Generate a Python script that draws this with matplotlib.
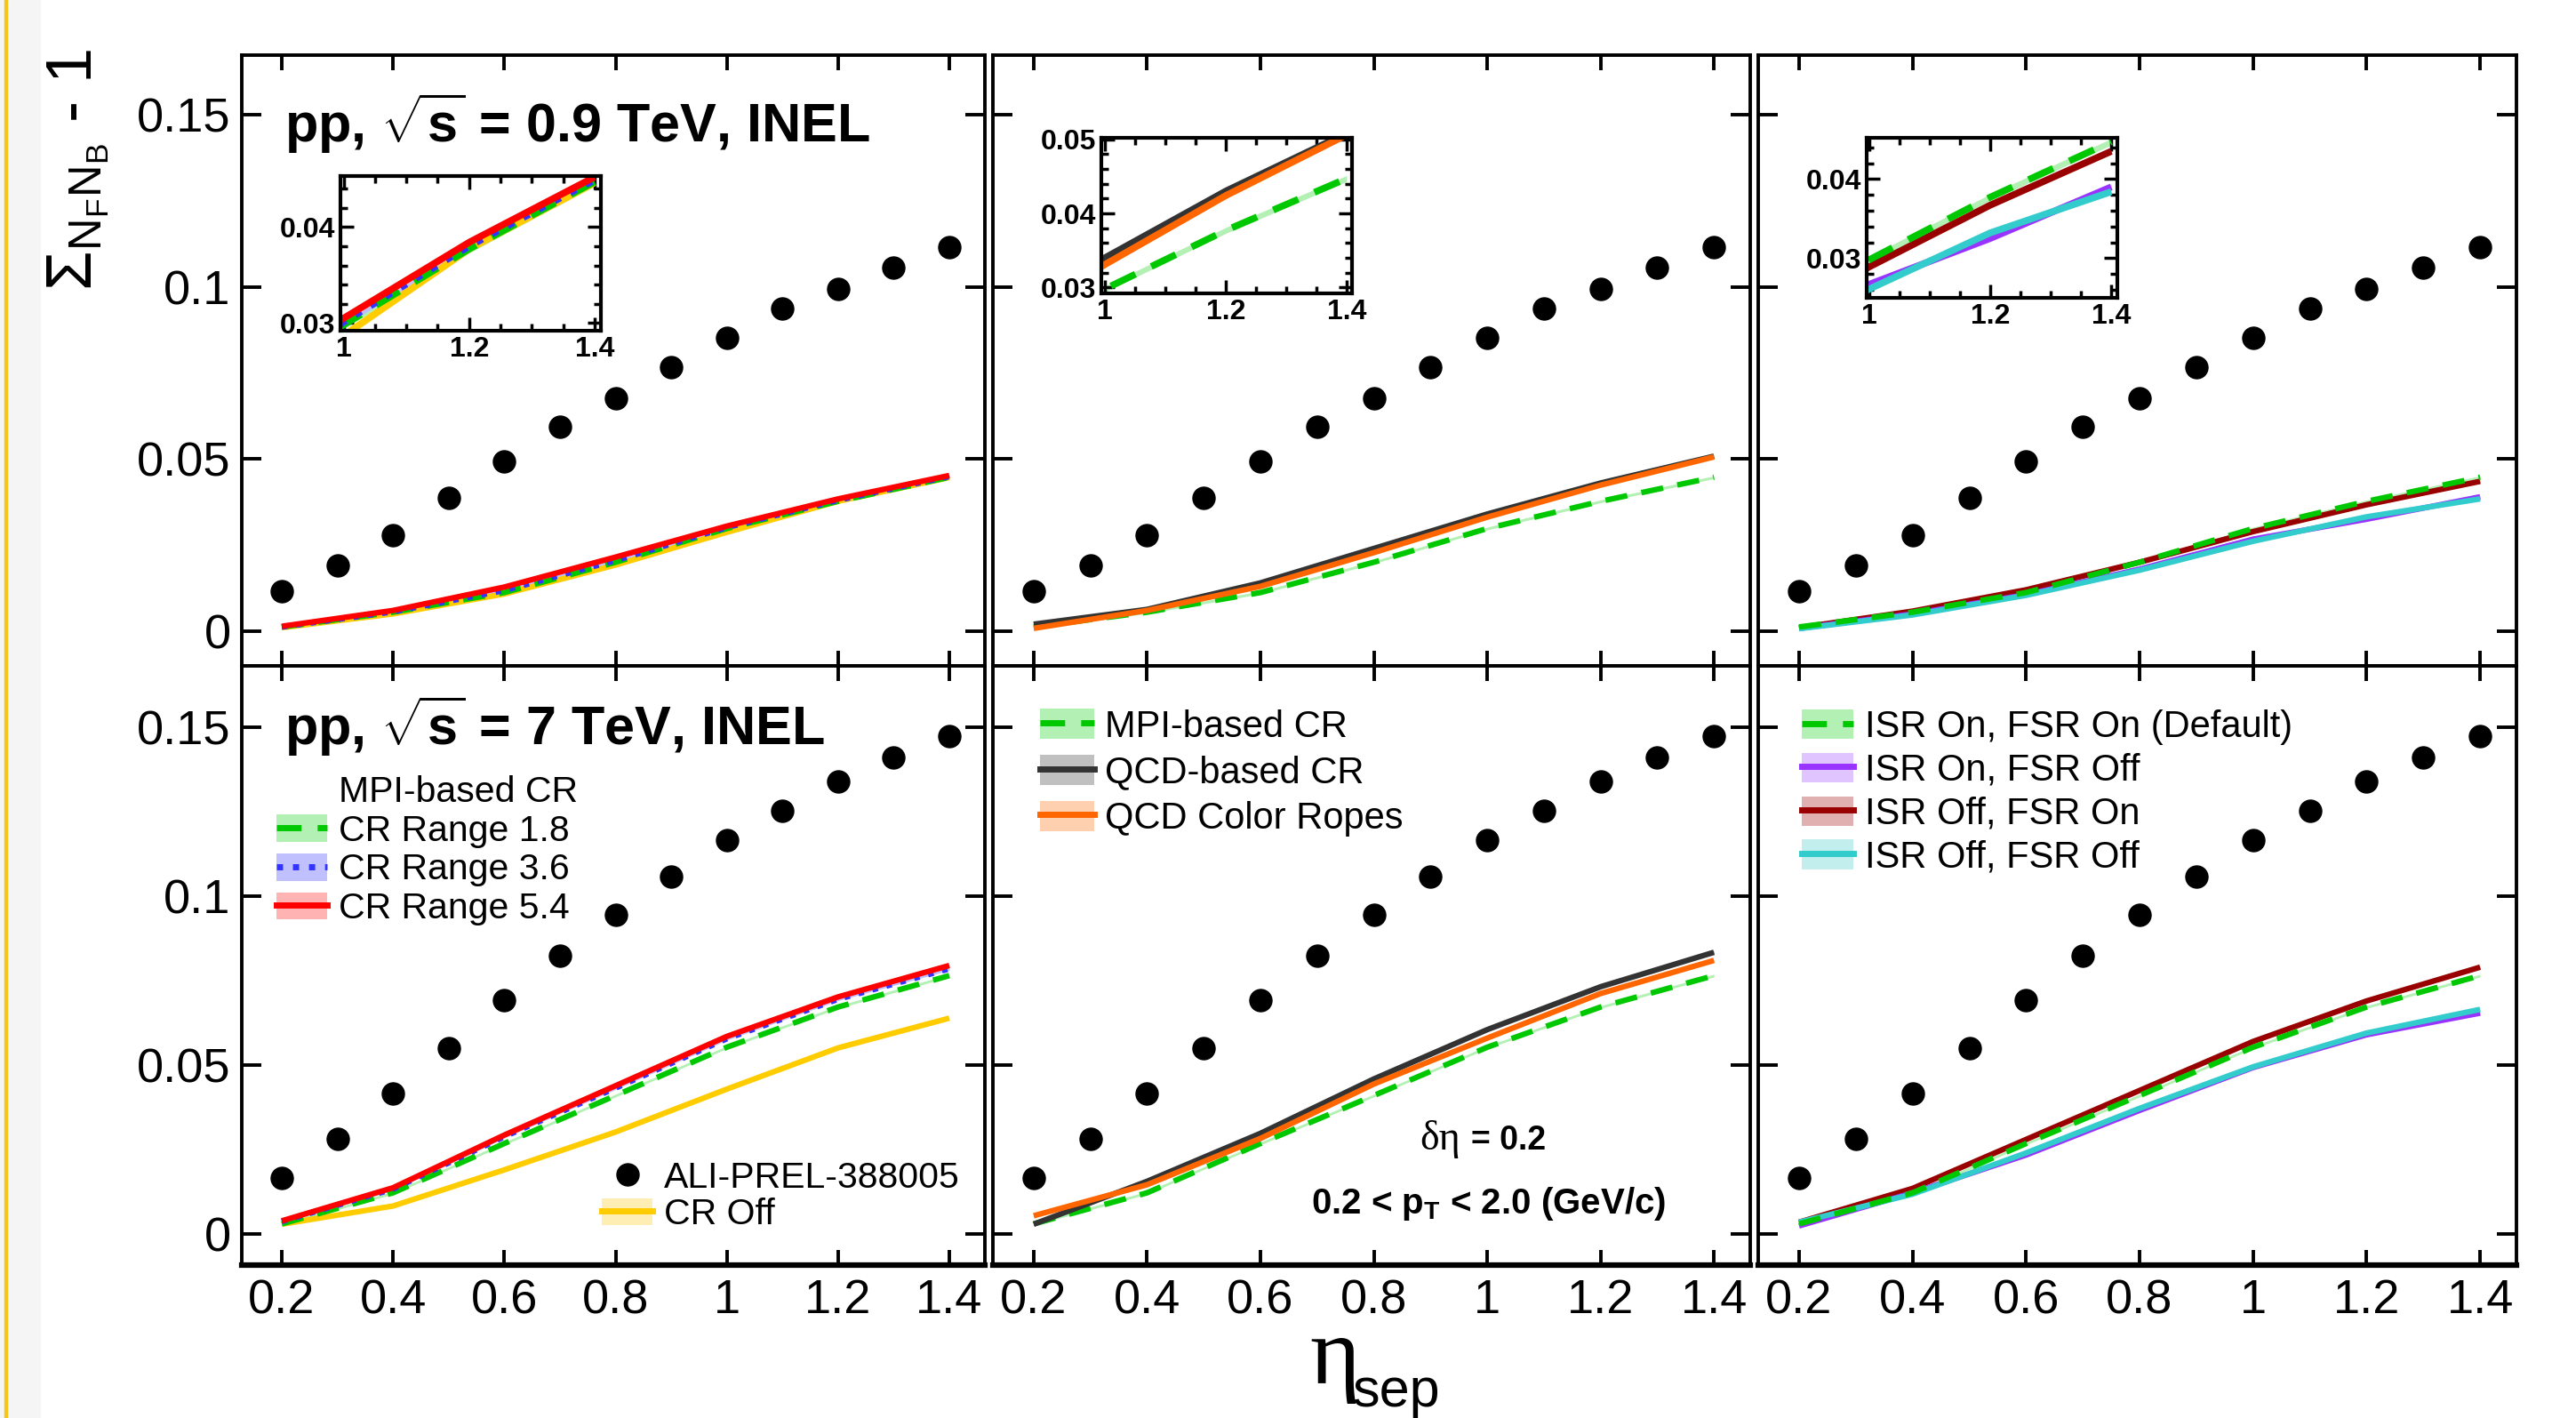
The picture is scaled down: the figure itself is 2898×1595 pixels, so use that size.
"""Balance function style chart: Sigma_{NFNB} - 1 vs eta_sep, pp 0.9 and 7 TeV, PYTHIA tunes."""

import matplotlib
matplotlib.use("Agg")
import matplotlib.pyplot as plt
from matplotlib.lines import Line2D
from matplotlib.patches import Patch, Rectangle
from matplotlib.ticker import MultipleLocator

plt.rcParams["font.family"] = ["Liberation Sans", "DejaVu Sans"]
plt.rcParams["mathtext.fontset"] = "custom"
plt.rcParams["mathtext.rm"] = "Liberation Sans"
plt.rcParams["mathtext.it"] = "Liberation Sans:italic"
plt.rcParams["mathtext.bf"] = "Liberation Sans:bold"
plt.rcParams["mathtext.sf"] = "Liberation Sans"

# ---- data -------------------------------------------------------------
eta_data = [0.2, 0.3, 0.4, 0.5, 0.6, 0.7, 0.8, 0.9, 1.0, 1.1, 1.2, 1.3, 1.4]
alice_09 = [0.0115, 0.0191, 0.0278, 0.0388, 0.0493, 0.0593, 0.0675, 0.0766,
            0.0852, 0.0938, 0.0995, 0.1057, 0.1115]
alice_7 = [0.0166, 0.0283, 0.0415, 0.0551, 0.0693, 0.0824, 0.0946, 0.1059,
           0.1166, 0.1254, 0.1341, 0.1410, 0.1473]

eta_model = [0.2, 0.4, 0.6, 0.8, 1.0, 1.2, 1.4]

# 0.9 TeV
mpi_09 = [0.0012, 0.0055, 0.0112, 0.0200, 0.0298, 0.0377, 0.0447]
cr36_09 = [0.0012, 0.0056, 0.0118, 0.0205, 0.0301, 0.0380, 0.0449]
cr54_09 = [0.0014, 0.0060, 0.0128, 0.0215, 0.0305, 0.0384, 0.0452]
croff_09 = [0.0010, 0.0050, 0.0108, 0.0192, 0.0287, 0.0377, 0.0446]
qcd_09 = [0.0020, 0.0063, 0.0140, 0.0240, 0.0340, 0.0430, 0.0508]
ropes_09 = [0.0008, 0.0060, 0.0130, 0.0228, 0.0331, 0.0424, 0.0506]
isr_on_fsr_off_09 = [0.0008, 0.0050, 0.0106, 0.0180, 0.0267, 0.0325, 0.0390]
isr_off_fsr_on_09 = [0.0010, 0.0058, 0.0120, 0.0200, 0.0289, 0.0367, 0.0435]
isr_off_fsr_off_09 = [0.0007, 0.0047, 0.0104, 0.0177, 0.0261, 0.0332, 0.0384]

# 7 TeV
mpi_7 = [0.0030, 0.0122, 0.0268, 0.0410, 0.0553, 0.0672, 0.0765]
cr36_7 = [0.0037, 0.0133, 0.0288, 0.0432, 0.0578, 0.0695, 0.0785]
cr54_7 = [0.0039, 0.0137, 0.0293, 0.0439, 0.0585, 0.0702, 0.0795]
croff_7 = [0.0029, 0.0083, 0.0190, 0.0302, 0.0429, 0.0551, 0.0639]
qcd_7 = [0.0029, 0.0156, 0.0298, 0.0459, 0.0605, 0.0732, 0.0834]
ropes_7 = [0.0054, 0.0146, 0.0283, 0.0444, 0.0580, 0.0712, 0.0810]
isr_on_fsr_off_7 = [0.0024, 0.0122, 0.0234, 0.0366, 0.0493, 0.0590, 0.0654]
isr_off_fsr_on_7 = [0.0035, 0.0135, 0.0280, 0.0425, 0.0570, 0.0690, 0.0790]
isr_off_fsr_off_7 = [0.0035, 0.0118, 0.0240, 0.0372, 0.0495, 0.0595, 0.0665]

band_err = 0.0004

x_ticks = [0.2, 0.4, 0.6, 0.8, 1.0, 1.2, 1.4]
x_labels = ["0.2", "0.4", "0.6", "0.8", "1", "1.2", "1.4"]
y_ticks = [0.0, 0.05, 0.1, 0.15]
y_labels = ["0", "0.05", "0.1", "0.15"]

# ---- styles -----------------------------------------------------------
STY = {
    "mpi": dict(color="#00c800", band="#b3f0b3", dashes=(4, 2.6)),
    "cr36": dict(color="#3333ff", band="#c0c0ff", dashes=(1.0, 1.6)),
    "cr54": dict(color="#ff0000", band="#ffb3b3", dashes=None),
    "croff": dict(color="#ffcc00", band="#ffeeb3", dashes=None),
    "qcd": dict(color="#333333", band="#c0c0c0", dashes=None),
    "ropes": dict(color="#ff6600", band="#ffd0b0", dashes=None),
    "isr_on": dict(color="#9933ff", band="#e0c4ff", dashes=None),
    "fsr_on": dict(color="#990000", band="#e0b0b0", dashes=None),
    "both_off": dict(color="#33cccc", band="#c2eeee", dashes=None),
}

W, H, DPI = 2898, 1595, 100


def fx(px):
    return px / W


def fy(py):
    return 1 - py / H


def box(x0, y0, x1, y1):
    return [x0 / W, 1 - y1 / H, (x1 - x0) / W, (y1 - y0) / H]


def draw_model(ax, y, key, lw):
    s = STY[key]
    lo = [v - band_err for v in y]
    hi = [v + band_err for v in y]
    ax.fill_between(eta_model, lo, hi, color=s["band"], lw=0, zorder=1)
    line, = ax.plot(eta_model, y, color=s["color"], lw=lw, zorder=2,
                    solid_capstyle="butt", dash_capstyle="butt")
    if s["dashes"]:
        line.set_dashes(s["dashes"])


def legend_handle(key):
    s = STY[key]
    ln = Line2D([], [], color=s["color"], lw=5)
    if s["dashes"]:
        ln.set_dashes(s["dashes"])
    return (Patch(facecolor=s["band"], edgecolor="none"), ln)


fig = plt.figure(figsize=(W / DPI, H / DPI), dpi=DPI)

# left margin strip
fig.patches.append(Rectangle((0, 0), fx(45), 1, transform=fig.transFigure,
                             color="#f5f5f5", zorder=-2))
fig.patches.append(Rectangle((fx(5), 0), fx(3), 1, transform=fig.transFigure,
                             color="#f5c518", zorder=-1))

cols = [(272, 1108), (1117, 1969), (1978, 2831)]
rows = [(62, 749), (749, 1423)]
ylims = [(-0.0101, 0.1673), (-0.0092, 0.1682)]

panels = [
    [[("croff", croff_09), ("mpi", mpi_09), ("cr36", cr36_09), ("cr54", cr54_09)],
     [("mpi", mpi_09), ("qcd", qcd_09), ("ropes", ropes_09)],
     [("fsr_on", isr_off_fsr_on_09), ("isr_on", isr_on_fsr_off_09),
      ("both_off", isr_off_fsr_off_09), ("mpi", mpi_09)]],
    [[("croff", croff_7), ("mpi", mpi_7), ("cr36", cr36_7), ("cr54", cr54_7)],
     [("mpi", mpi_7), ("qcd", qcd_7), ("ropes", ropes_7)],
     [("fsr_on", isr_off_fsr_on_7), ("isr_on", isr_on_fsr_off_7),
      ("both_off", isr_off_fsr_off_7), ("mpi", mpi_7)]],
]
alice = [alice_09, alice_7]

axes = {}
for r, (y0, y1) in enumerate(rows):
    for c, (x0, x1) in enumerate(cols):
        ax = fig.add_axes(box(x0, y0, x1, y1))
        axes[(r, c)] = ax
        for key, y in panels[r][c]:
            draw_model(ax, y, key, lw=4.5)
        ax.plot(eta_data, alice[r], "o", color="black", ms=18, zorder=5)
        ax.set_xlim(0.128, 1.464)
        ax.set_ylim(*ylims[r])
        ax.set_xticks(x_ticks, x_labels)
        ax.set_yticks(y_ticks, y_labels)
        ax.tick_params(direction="in", top=True, right=True, width=2.8,
                       labelsize=39, labelbottom=(r == 1), labelleft=(c == 0))
        ax.tick_params(axis="x", length=12, pad=11)
        ax.tick_params(axis="y", length=16, pad=9)
        for sp in ax.spines.values():
            sp.set_linewidth(2.8)
        if r == 1:
            ax.spines["bottom"].set_linewidth(4.5)

# ---- insets -----------------------------------------------------------
insets = [
    ((383, 198, 676, 372), (0.995, 1.41), (0.0292, 0.0453), [0.03, 0.04], panels[0][0]),
    ((1239, 155, 1521, 330), (0.994, 1.409), (0.0292, 0.0502), [0.03, 0.04, 0.05], panels[0][1]),
    ((2100, 155, 2382, 335), (0.996, 1.41), (0.0250, 0.0452), [0.03, 0.04], panels[0][2]),
]
for rect, xl, yl, yt, series in insets:
    ia = fig.add_axes(box(*rect))
    for key, y in series:
        draw_model(ia, y, key, lw=5.5)
    ia.set_xlim(*xl)
    ia.set_ylim(*yl)
    ia.set_xticks([1.0, 1.2, 1.4], ["1", "1.2", "1.4"], fontweight="bold")
    ia.set_yticks(yt, ["%.2f" % v for v in yt], fontweight="bold")
    ia.xaxis.set_minor_locator(MultipleLocator(0.05))
    ia.yaxis.set_minor_locator(MultipleLocator(0.002))
    ia.tick_params(which="both", direction="in", top=True, right=True, width=2.5,
                   labelsize=23)
    ia.tick_params(which="major", length=11, pad=4)
    ia.tick_params(which="minor", length=6)
    for sp in ia.spines.values():
        sp.set_linewidth(3)

# ---- headers ----------------------------------------------------------
fig.text(fx(320), fy(160), r"pp, $\sqrt{\mathbf{s}}$ = 0.9 TeV, INEL",
         fontsize=44, fontweight="bold", va="baseline")
fig.text(fx(320), fy(838), r"pp, $\sqrt{\mathbf{s}}$ = 7 TeV, INEL",
         fontsize=44, fontweight="bold", va="baseline")

# ---- legends ----------------------------------------------------------
leg_kw = dict(loc="upper left", bbox_transform=fig.transFigure, frameon=False,
              borderpad=0, borderaxespad=0, handletextpad=0.3)

ax = axes[(1, 0)]
leg1 = ax.legend(
    [Line2D([], [], linestyle="none"), legend_handle("mpi"),
     legend_handle("cr36"), legend_handle("cr54")],
    ["MPI-based CR", "CR Range 1.8", "CR Range 3.6", "CR Range 5.4"],
    bbox_to_anchor=(fx(311), fy(872)), fontsize=29.5, handlelength=1.4,
    handleheight=0.78, labelspacing=0.14, **leg_kw)
ax.add_artist(leg1)
ax.legend(
    [Line2D([], [], marker="o", color="black", linestyle="none", ms=18),
     legend_handle("croff")],
    ["ALI-PREL-388005", "CR Off"],
    bbox_to_anchor=(fx(677), fy(1306)), fontsize=29.5, handlelength=1.4,
    handleheight=0.78, labelspacing=0.08, **leg_kw)

axes[(1, 1)].legend(
    [legend_handle("mpi"), legend_handle("qcd"), legend_handle("ropes")],
    ["MPI-based CR", "QCD-based CR", "QCD Color Ropes"],
    bbox_to_anchor=(fx(1170), fy(797)), fontsize=30, handlelength=1.46,
    handleheight=0.89, labelspacing=0.27, **leg_kw)

axes[(1, 2)].legend(
    [legend_handle("mpi"), legend_handle("isr_on"), legend_handle("fsr_on"),
     legend_handle("both_off")],
    ["ISR On, FSR On (Default)", "ISR On, FSR Off", "ISR Off, FSR On",
     "ISR Off, FSR Off"],
    bbox_to_anchor=(fx(2027), fy(798)), fontsize=30, handlelength=1.4,
    handleheight=0.85, labelspacing=0.21, **leg_kw)

# ---- annotations ------------------------------------------------------
fig.text(fx(1597), fy(1293), "δη", family="Liberation Serif", fontsize=33,
         va="baseline")
fig.text(fx(1655), fy(1293), "= 0.2", fontsize=27, fontweight="bold",
         va="baseline")
fig.text(fx(1675), fy(1365), r"0.2 < p$_{\mathbf{T}}$ < 2.0 (GeV/c)",
         fontsize=29, fontweight="bold", ha="center", va="baseline")

# axis titles
fig.text(fx(1473), fy(1556), "η", family="Liberation Serif", fontsize=78,
         va="baseline")
fig.text(fx(1521), fy(1582), "sep", fontsize=44, va="baseline")
fig.text(fx(88), fy(55),
         r"$\Sigma_{\mathrm{N}_{\mathrm{F}}\mathrm{N}_{\mathrm{B}}}$ - 1",
         fontsize=52, rotation=90, ha="center", va="top")

fig.savefig("out.png", dpi=DPI)
